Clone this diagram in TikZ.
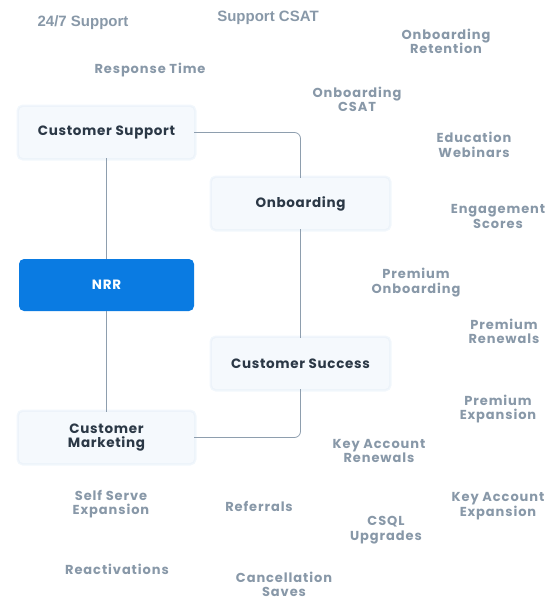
\documentclass[tikz,border=0pt]{standalone}
\usepackage{fontspec}
\setmainfont{Poppins}
\newfontfamily\widefont[LetterSpace=7]{Poppins}
\newfontfamily\boxfont[LetterSpace=5]{Poppins}
\newfontfamily\narrowfont{Liberation Sans}
\definecolor{linegray}{HTML}{8E9EAE}
\definecolor{labelgray}{HTML}{8898A8}
\definecolor{boxtext}{HTML}{2B3846}
\definecolor{boxfill}{HTML}{F5F9FD}
\definecolor{glow}{HTML}{E2EDF8}
\definecolor{nrrblue}{HTML}{0A7BE2}
\begin{document}
\begin{tikzpicture}[x=1pt,y=-1pt,
  teambox/.style={rounded corners=4pt, fill=boxfill, text=boxtext,
    minimum width=175pt, minimum height=51pt, align=center,
    font=\boxfont\bfseries\fontsize{13.5}{14}\selectfont,
    preaction={draw=glow, line width=5pt, opacity=0.45},
    preaction={draw=glow!70, line width=2.5pt, opacity=0.7}},
  hubbox/.style={rounded corners=5pt, fill=nrrblue, text=white,
    minimum width=175pt, minimum height=52pt,
    font=\boxfont\bfseries\fontsize{13.5}{14}\selectfont},
  metric/.style={text=labelgray, align=center,
    font=\widefont\bfseries\fontsize{13}{14.5}\selectfont, inner sep=0pt},
  narrowmetric/.style={metric, font=\narrowfont\bfseries\fontsize{15}{15}\selectfont},
  link/.style={draw=linegray, line width=0.8pt, rounded corners=6pt}]
\useasboundingbox (0,0) rectangle (553,600);

% team boxes and the central metric
\node[teambox] (support) at (106.5,132.5) {Customer Support};
\node[teambox, minimum width=177pt] (onboard) at (300.5,203.5) {Onboarding};
\node[hubbox] (nrr) at (106.5,285) {NRR};
\node[teambox, minimum width=177pt] (success) at (300.5,363.5) {Customer Success};
\node[teambox] (marketing) at (106.5,437.5) {Customer\\Marketing};

% connectors
\draw[link] (support.east) -- (onboard.north |- support.east) -- (onboard.north);
\draw[link] (onboard.south) -- (success.north);
\draw[link] (success.south) -- (success.south |- marketing.east) -- (marketing.east);
\draw[link] (support.south) -- (nrr.north);
\draw[link] (nrr.south) -- (marketing.north);

% metrics
\node[narrowmetric] (m1) at (83,22.5) {24/7 Support};
\node[narrowmetric] (m2) at (268,17.5) {Support CSAT};
\node[metric] (m3) at (150,70.5) {Response Time};
\node[metric] (m4) at (446,41.5) {Onboarding\\Retention};
\node[metric] (m5) at (357,99.5) {Onboarding\\CSAT};
\node[metric] (m6) at (474,145) {Education\\Webinars};
\node[metric] (m7) at (498,216.5) {Engagement\\Scores};
\node[metric] (m8) at (416,282.5) {Premium\\Onboarding};
\node[metric] (m9) at (504,331.5) {Premium\\Renewals};
\node[metric] (m10) at (498,409) {Premium\\Expansion};
\node[metric] (m11) at (379,451) {Key Account\\Renewals};
\node[metric] (m12) at (498,506) {Key Account\\Expansion};
\node[metric] (m13) at (111,504) {Self Serve\\Expansion};
\node[metric] (m14) at (259,506.5) {Referrals};
\node[metric] (m15) at (386,530) {CSQL\\Upgrades};
\node[metric] (m16) at (117,569.5) {Reactivations};
\node[metric] (m17) at (284,584.5) {Cancellation\\Saves};
\end{tikzpicture}
\end{document}
